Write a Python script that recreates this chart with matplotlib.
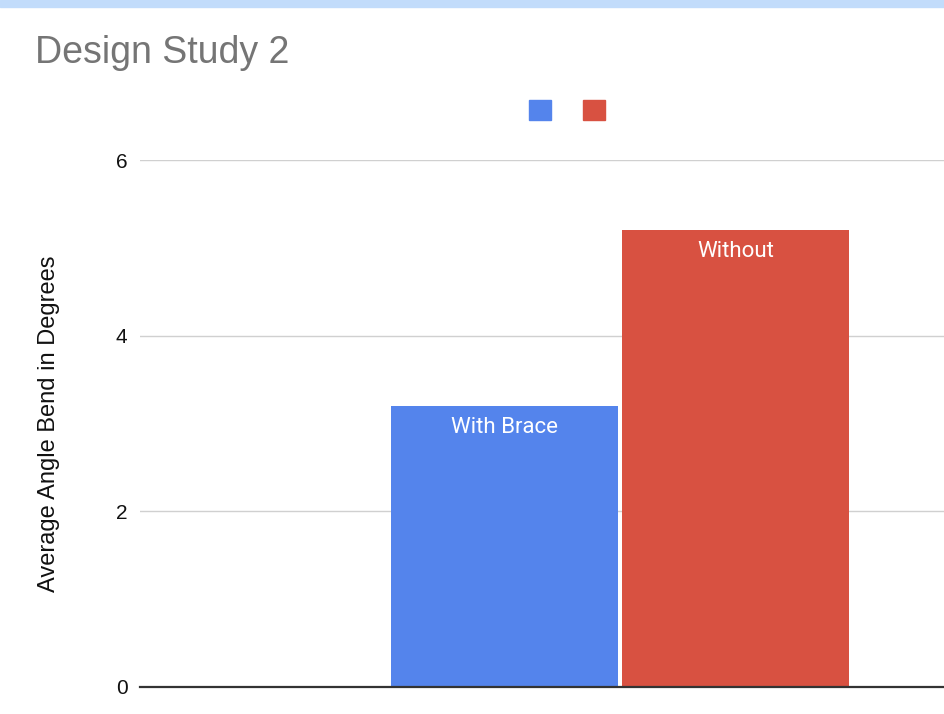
import matplotlib.pyplot as plt
from matplotlib.patches import Patch, Rectangle

# ---------------- data ----------------
series_names = ["With Brace", "Without"]
values = [3.2, 5.2]
colors = ["#5484ec", "#d85141"]
y_ticks = [0, 2, 4, 6]

plt.rcParams["font.family"] = ["Liberation Sans", "DejaVu Sans"]

fig = plt.figure(figsize=(9.45, 7.14), dpi=100)

# light blue strip across the top edge
fig.patches.append(Rectangle((0, 1 - 7 / 714), 1, 7 / 714, transform=fig.transFigure,
                             color="#c2dcfb", zorder=0))

ax = fig.add_axes([140 / 945, 27 / 714, 1 - 140 / 945, (687 - 160) / 714])

# two bars in one group, centred on 0
offsets = [-0.51, 0.51]
bars = ax.bar(offsets, values, width=1.0, color=colors, zorder=3)

for x, v, name in zip(offsets, values, series_names):
    ax.annotate(name, (x, v), xytext=(0, -8), textcoords="offset points",
                ha="center", va="top", color="white", fontsize=16,
                family=["Roboto", "DejaVu Sans"], zorder=4)

ax.set_xlim((140 - 620) / 227, (945 - 620) / 227)
ax.set_ylim(0, 6)
ax.set_yticks(y_ticks)
ax.set_yticklabels([str(t) for t in y_ticks], fontsize=15, color="#111111")
ax.set_xticks([])
ax.tick_params(axis="y", length=0, pad=9)
ax.grid(axis="y", color="#d0d0d0", linewidth=1, zorder=0)
for s in ["top", "right", "left"]:
    ax.spines[s].set_visible(False)
ax.spines["bottom"].set_color("#333333")
ax.spines["bottom"].set_linewidth(1.6)
ax.spines["bottom"].set_zorder(5)

ax.set_ylabel("Average Angle Bend in Degrees", fontsize=17, color="#111111", labelpad=40)

fig.text(35 / 945, 1 - 53 / 714, "Design Study 2", fontsize=27, color="#757575",
         ha="left", va="center")

handles = [Patch(color=c) for c in colors]
fig.legend(handles, ["", ""], loc="center", bbox_to_anchor=(567 / 945, 1 - 111 / 714),
           ncol=2, frameon=False, fontsize=16, handlelength=1.0, handleheight=1.0,
           handletextpad=0.0, columnspacing=1.4)

fig.savefig("out.png", dpi=100)
